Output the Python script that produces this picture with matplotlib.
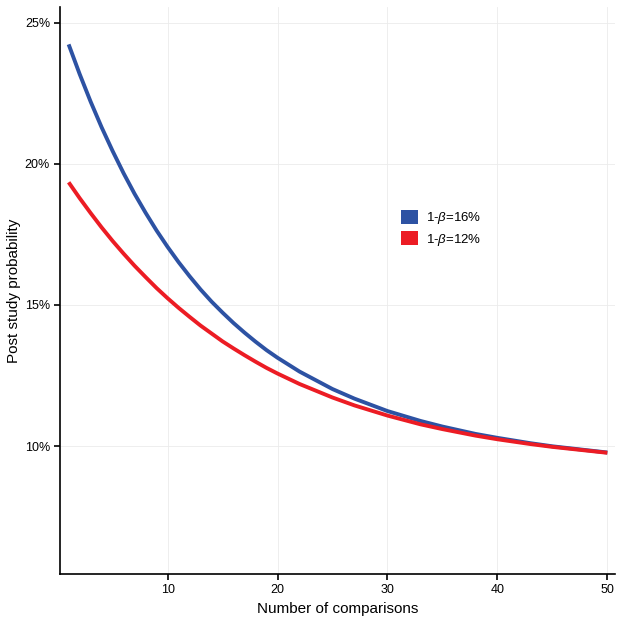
import matplotlib
matplotlib.use("Agg")
import matplotlib.pyplot as plt
from matplotlib.patches import Patch
from matplotlib.ticker import FuncFormatter

plt.rcParams['font.family'] = ['Liberation Sans', 'DejaVu Sans']
plt.rcParams['mathtext.fontset'] = 'custom'
plt.rcParams['mathtext.rm'] = 'Liberation Sans'
plt.rcParams['mathtext.it'] = 'Liberation Sans:italic'

# number of comparisons and post study probability (%)
n_comp = [1, 2, 3, 4, 5, 6, 7, 8, 9, 10, 11, 12, 13, 14, 15, 16, 17, 18, 19, 20,
          22, 25, 27, 30, 33, 35, 38, 40, 43, 45, 50]
power16 = [24.24, 23.19, 22.21, 21.30, 20.46, 19.67, 18.94, 18.27, 17.64, 17.06,
           16.52, 16.02, 15.55, 15.12, 14.73, 14.36, 14.02, 13.70, 13.40, 13.13,
           12.64, 12.02, 11.68, 11.24, 10.89, 10.69, 10.43, 10.29, 10.10, 9.99, 9.77]
power12 = [19.35, 18.79, 18.26, 17.75, 17.27, 16.82, 16.39, 15.99, 15.60, 15.24,
           14.90, 14.58, 14.27, 13.99, 13.71, 13.46, 13.22, 12.99, 12.77, 12.57,
           12.20, 11.72, 11.44, 11.08, 10.77, 10.60, 10.37, 10.24, 10.07, 9.97, 9.76]
labels = [r'1-$\beta$=16%', r'1-$\beta$=12%']
colors = ['#2D52A3', '#EC1C24']

fig = plt.figure(figsize=(6.2, 6.24), dpi=100)
ax = fig.add_axes([0.0974, 0.080, 0.8946, 0.909])

ax.plot(n_comp, power16, color=colors[0], lw=2.8, solid_capstyle='butt', zorder=3)
ax.plot(n_comp, power12, color=colors[1], lw=2.8, solid_capstyle='butt', zorder=3)

ax.set_xlim(0.25, 50.7)
ax.set_ylim(5.46, 25.57)
ax.set_xticks([10, 20, 30, 40, 50])
ax.set_yticks([10, 15, 20, 25])
ax.yaxis.set_major_formatter(FuncFormatter(lambda v, p: f'{v:.0f}%'))

ax.grid(True, color='#ebebeb', lw=0.6)
ax.set_axisbelow(True)
for s in ['top', 'right']:
    ax.spines[s].set_visible(False)
for s in ['left', 'bottom']:
    ax.spines[s].set_linewidth(1.2)
ax.tick_params(length=4, width=1.2, labelsize=9, color='black', labelcolor='black')

ax.set_xlabel('Number of comparisons', fontsize=11, labelpad=4)
ax.set_ylabel('Post study probability', fontsize=11, labelpad=3)

handles = [Patch(facecolor=c, edgecolor='none') for c in colors]
ax.legend(handles, labels, loc='upper left', bbox_to_anchor=(0.602, 0.654),
          frameon=False, fontsize=9.5, handlelength=1.3, handleheight=1.3,
          handletextpad=0.6, labelspacing=0.35, borderpad=0)

fig.savefig('out.png', dpi=100)
